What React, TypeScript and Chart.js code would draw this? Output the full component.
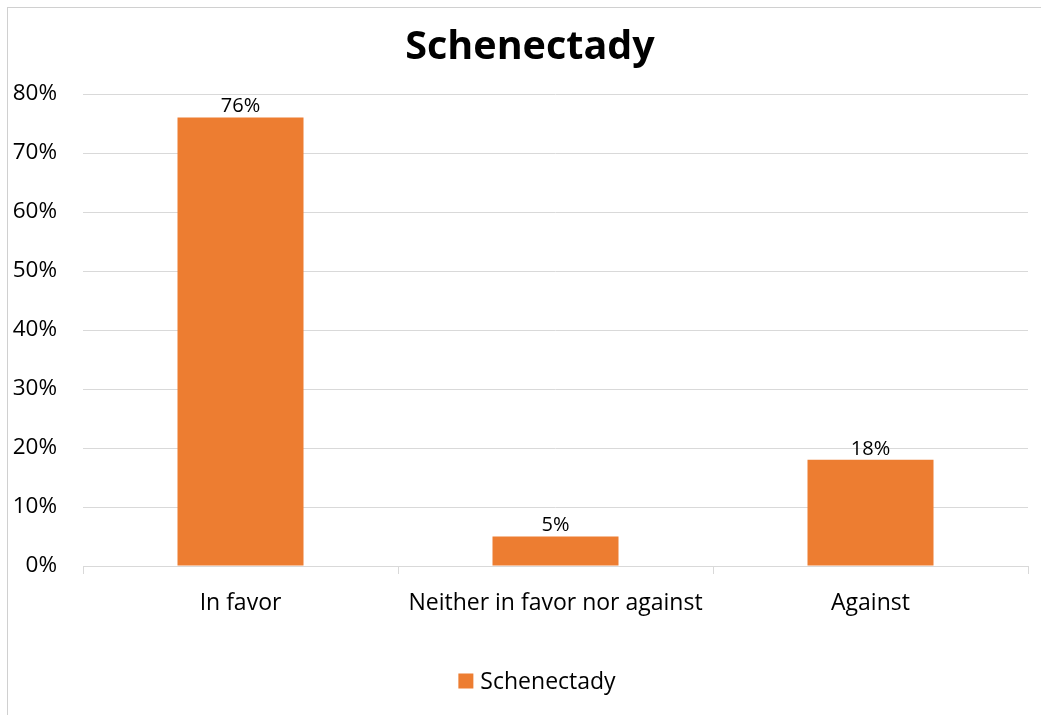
import React, { useEffect, useRef } from "react";
import { Chart, registerables } from "chart.js";

Chart.register(...registerables);

const chartTitle = "Schenectady";
const seriesName = "Schenectady";
const categories = ["In favor", "Neither in favor nor against", "Against"];
const values = [76, 5, 18];
const yTicks = [0, 10, 20, 30, 40, 50, 60, 70, 80];

const FONT = "'Open Sans', Lato, sans-serif";
const ORANGE = "#ED7D31";

const W = 1041;
const H = 715;
const AREA = { left: 83, right: 1028, top: 94, bottom: 566 };

export default function App() {
  const ref = useRef<HTMLCanvasElement | null>(null);

  useEffect(() => {
    if (!ref.current) return;
    const overlay = {
      id: "overlay",
      afterDatasetsDraw(chart: any) {
        const ctx = chart.ctx;
        const meta = chart.getDatasetMeta(0);
        ctx.save();
        ctx.fillStyle = "#000";
        ctx.font = `20px ${FONT}`;
        ctx.textAlign = "center";
        ctx.textBaseline = "bottom";
        meta.data.forEach((bar: any, i: number) => {
          ctx.fillText(`${values[i]}%`, bar.x, bar.y - 1);
        });
        ctx.restore();
      },
      afterDraw(chart: any) {
        const ctx = chart.ctx;
        ctx.save();
        ctx.fillStyle = "#000";
        ctx.font = `bold 39.5px ${FONT}`;
        ctx.textAlign = "center";
        ctx.textBaseline = "middle";
        ctx.fillText(chartTitle, 530, 48);
        // legend
        ctx.font = `23px ${FONT}`;
        ctx.textAlign = "left";
        const tw = ctx.measureText(seriesName).width;
        const box = 15;
        const gap = 7;
        const total = box + gap + tw;
        const x0 = 537 - total / 2;
        const cy = 681;
        ctx.fillStyle = ORANGE;
        ctx.fillRect(x0, cy - box / 2, box, box);
        ctx.fillStyle = "#000";
        ctx.fillText(seriesName, x0 + box + gap, cy + 1);
        ctx.restore();
      },
    };

    const chart = new Chart(ref.current, {
      type: "bar",
      data: {
        labels: categories,
        datasets: [
          {
            label: seriesName,
            data: values,
            backgroundColor: ORANGE,
            borderWidth: 0,
            barPercentage: 0.4,
            categoryPercentage: 1,
          },
        ],
      },
      options: {
        responsive: false,
        animation: false,
        layout: {
          padding: { top: AREA.top, left: 0, right: W - AREA.right, bottom: 0 },
        },
        plugins: {
          legend: { display: false },
          title: { display: false },
          tooltip: { enabled: false },
        },
        scales: {
          x: {
            offset: true,
            grid: {
              offset: true,
              drawOnChartArea: false,
              drawTicks: true,
              tickLength: 8,
              color: "#D9D9D9",
            },
            border: { color: "#D9D9D9" },
            ticks: {
              color: "#000",
              font: { family: FONT, size: 23 },
              padding: 16,
              maxRotation: 0,
            },
            afterFit(scale: any) {
              scale.height = H - AREA.bottom;
            },
          },
          y: {
            min: 0,
            max: 80,
            afterBuildTicks(scale: any) {
              scale.ticks = yTicks.map((v) => ({ value: v }));
            },
            grid: { color: "#D9D9D9", drawTicks: false },
            border: { display: false },
            ticks: {
              color: "#000",
              font: { family: FONT, size: 22.5 },
              padding: 26,
              callback: (v: any) => `${v}%`,
            },
            afterFit(scale: any) {
              scale.width = AREA.left;
            },
          },
        },
      },
      plugins: [overlay],
    });
    return () => chart.destroy();
  }, []);

  return (
    <div
      style={{
        position: "fixed",
        left: 0,
        top: 0,
        width: W,
        height: H,
        overflow: "hidden",
        background: "#fff",
      }}
    >
      <div
        style={{
          position: "absolute",
          left: 7,
          top: 7,
          width: W + 20,
          height: H + 20,
          border: "1px solid #D0D0D0",
          boxSizing: "border-box",
        }}
      />
      <canvas
        ref={ref}
        width={W}
        height={H}
        style={{ position: "absolute", left: 0, top: 0, width: W, height: H }}
      />
    </div>
  );
}
